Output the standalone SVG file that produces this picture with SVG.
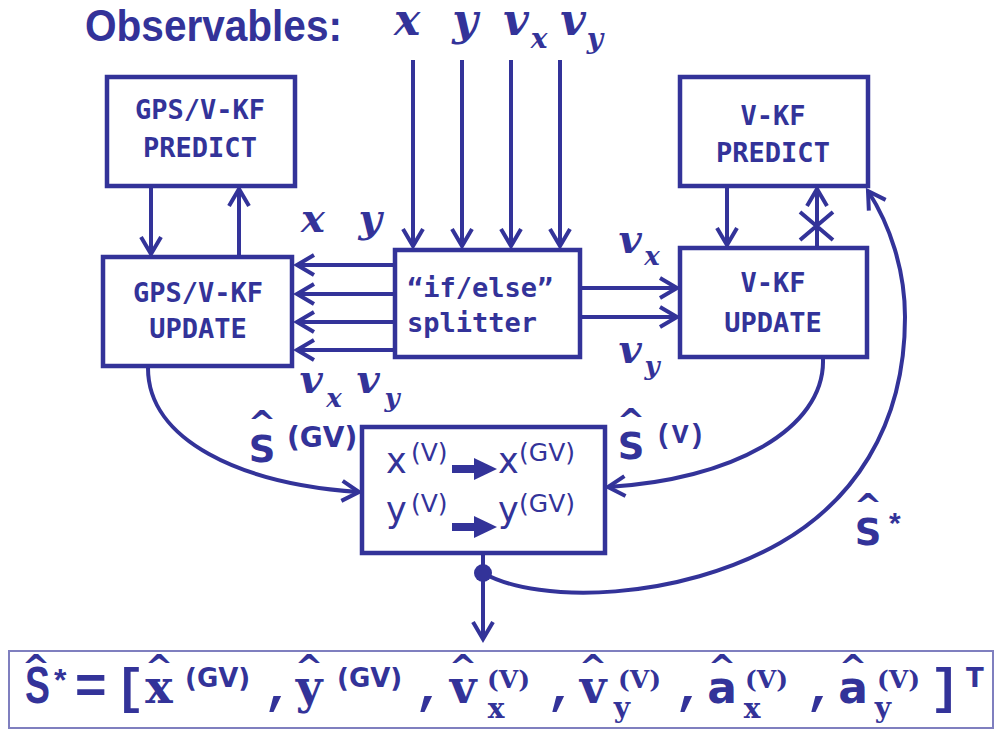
<svg xmlns="http://www.w3.org/2000/svg" width="998" height="732" viewBox="0 0 998 732">
<defs>
<style>
.ln{fill:none;stroke:#333399;stroke-width:4}
.box{fill:#ffffff;stroke:#333399;stroke-width:4.5}
.bt{font-family:"DejaVu Sans Mono",monospace;font-weight:bold;font-size:27px;fill:#333399;text-anchor:middle}
.var{font-family:"DejaVu Serif",serif;font-weight:bold;font-style:italic;fill:#333399;text-anchor:middle}
.sans{font-family:"DejaVu Sans",sans-serif;fill:#333399}
.sb{font-family:"DejaVu Sans",sans-serif;font-weight:bold;fill:#333399}
.ser{font-family:"DejaVu Serif",serif;font-weight:bold;fill:#333399}
.mono{font-family:"Liberation Mono",monospace;font-weight:bold;fill:#333399}
.hat{font-family:"DejaVu Sans",sans-serif;font-weight:bold;fill:#333399;text-anchor:middle}
.ls{font-family:"Liberation Sans",sans-serif;font-weight:bold;fill:#333399}
.mid{text-anchor:middle}
</style>
<marker id="ah" viewBox="0 0 22 24" refX="20" refY="12" markerWidth="22" markerHeight="24" markerUnits="userSpaceOnUse" orient="auto" style="overflow:visible">
<path d="M3,2 L20,12 L3,22" fill="none" stroke="#333399" stroke-width="4"/>
</marker>
</defs>
<rect width="998" height="732" fill="#ffffff"/>

<g id="title">
<text x="85" y="41" class="ls" font-size="44" textLength="257" lengthAdjust="spacingAndGlyphs">Observables:</text>
<text x="407" y="35" class="var" font-size="44">x</text>
<text x="465" y="35" class="var" font-size="44">y</text>
<text x="516" y="35" class="var" font-size="44">v</text>
<text x="539" y="48" class="var" font-size="28">x</text>
<text x="573" y="35" class="var" font-size="44">v</text>
<text x="595" y="48" class="var" font-size="28">y</text>
</g>

<g id="connectors">
<path class="ln" d="M413,60 V246" marker-end="url(#ah)"/>
<path class="ln" d="M462,60 V246" marker-end="url(#ah)"/>
<path class="ln" d="M511,60 V246" marker-end="url(#ah)"/>
<path class="ln" d="M560,60 V246" marker-end="url(#ah)"/>
<path class="ln" d="M395,265 H297" marker-end="url(#ah)"/>
<path class="ln" d="M395,294 H297" marker-end="url(#ah)"/>
<path class="ln" d="M395,322 H297" marker-end="url(#ah)"/>
<path class="ln" d="M395,350 H297" marker-end="url(#ah)"/>
<path class="ln" d="M580,288 H677" marker-end="url(#ah)"/>
<path class="ln" d="M580,317 H677" marker-end="url(#ah)"/>
<path class="ln" d="M151,188 V254" marker-end="url(#ah)"/>
<path class="ln" d="M239,255 V189" marker-end="url(#ah)"/>
<path class="ln" d="M727,188 V245" marker-end="url(#ah)"/>
<path class="ln" d="M817,246 V189" marker-end="url(#ah)"/>
<path class="ln" d="M800,212 L833,240 M833,212 L800,240"/>
<path class="ln" d="M148,368 C148,440 240,484 359,492" marker-end="url(#ah)"/>
<path class="ln" d="M823,359 C825,430 730,480 608,487" marker-end="url(#ah)"/>
<path class="ln" d="M483,573 C540,605 680,600 780,543 C850,503 905,430 905,317 C905,270 890,225 868,191" marker-end="url(#ah)"/>
<path class="ln" d="M483,555 V639" marker-end="url(#ah)"/>
<circle cx="483" cy="573" r="9" fill="#333399"/>
</g>

<g id="gps-predict">
<rect class="box" x="107" y="77" width="188" height="109"/>
<text class="bt" x="200" y="119">GPS/V-KF</text>
<text class="bt" x="200" y="157">PREDICT</text>
</g>
<g id="gps-update">
<rect class="box" x="103" y="257" width="189" height="109"/>
<text class="bt" x="198" y="302">GPS/V-KF</text>
<text class="bt" x="198" y="338">UPDATE</text>
</g>
<g id="splitter">
<rect class="box" x="395" y="250" width="185" height="107"/>
<text class="bt" x="407" y="297" style="text-anchor:start">“if/else”</text>
<text class="bt" x="407" y="332" style="text-anchor:start">splitter</text>
</g>
<g id="vkf-predict">
<rect class="box" x="680" y="77" width="188" height="109"/>
<text class="bt" x="773" y="125">V-KF</text>
<text class="bt" x="773" y="162">PREDICT</text>
</g>
<g id="vkf-update">
<rect class="box" x="680" y="248" width="187" height="109"/>
<text class="bt" x="773" y="292">V-KF</text>
<text class="bt" x="773" y="332">UPDATE</text>
</g>
<g id="merge">
<rect class="box" x="362" y="427" width="243" height="126"/>
<text class="sans" x="386" y="473" font-size="35">x</text>
<text class="sans" x="411" y="461" font-size="25">(V)</text>
<rect x="452" y="465" width="24" height="8" fill="#333399"/>
<polygon points="474,458 497,469 474,480" fill="#333399"/>
<text class="sans" x="498" y="473" font-size="35">x</text>
<text class="sans" x="519" y="461" font-size="25">(GV)</text>
<text class="sans" x="386" y="522" font-size="35">y</text>
<text class="sans" x="411" y="512" font-size="25">(V)</text>
<rect x="452" y="523" width="24" height="8" fill="#333399"/>
<polygon points="474,516 497,527 474,538" fill="#333399"/>
<text class="sans" x="498" y="522" font-size="35">y</text>
<text class="sans" x="519" y="512" font-size="25">(GV)</text>
</g>

<g id="labels">
<text x="313" y="232" class="var" font-size="40">x</text>
<text x="370" y="232" class="var" font-size="40">y</text>
<text x="311" y="393" class="var" font-size="40">v</text>
<text x="334" y="407" class="var" font-size="26">x</text>
<text x="368" y="393" class="var" font-size="40">v</text>
<text x="392" y="407" class="var" font-size="26">y</text>
<text x="630" y="253" class="var" font-size="40">v</text>
<text x="652" y="265" class="var" font-size="26">x</text>
<text x="630" y="363" class="var" font-size="40">v</text>
<text x="652" y="375" class="var" font-size="26">y</text>
<text class="hat" x="262" y="435" font-size="34">^</text>
<text class="sb mid" x="262" y="462" font-size="37">S</text>
<text class="sb" x="287" y="447" font-size="28">(GV)</text>
<text class="hat" x="631" y="433" font-size="34">^</text>
<text class="sb mid" x="631" y="459" font-size="37">S</text>
<text class="mono" x="655" y="443" font-size="28">(V)</text>
<text class="hat" x="868" y="518" font-size="34">^</text>
<text class="sb mid" x="868" y="545" font-size="37">S</text>
<text class="ls" x="889" y="533" font-size="30">*</text>
</g>

<g id="formula">
<rect x="9" y="651" width="984" height="77" fill="none" stroke="#7f7fbf" stroke-width="2"/>
<text class="hat" x="36" y="679" font-size="34">^</text>
<text class="ls" x="0" y="0" font-size="52" transform="translate(25,703) scale(0.72,1)">S</text>
<text class="ls" x="54" y="691" font-size="32">*</text>
<text class="ls" x="75" y="703" font-size="54">=</text>
<text class="mono mid" x="130" y="703" font-size="50">[</text>
<text class="hat" x="159" y="679" font-size="34">^</text>
<text class="ser mid" x="159" y="703" font-size="46">x</text>
<text class="sb" x="185" y="687" font-size="26">(GV)</text>
<text class="mono mid" x="278" y="703" font-size="50">,</text>
<text class="hat" x="309" y="679" font-size="34">^</text>
<text class="ser mid" x="309" y="703" font-size="46">y</text>
<text class="sb" x="337" y="687" font-size="26">(GV)</text>
<text class="mono mid" x="429" y="703" font-size="50">,</text>
<text class="hat" x="463" y="679" font-size="34">^</text>
<text class="ser mid" x="463" y="703" font-size="46">v</text>
<text class="ser" x="487" y="688" font-size="25">(V)</text>
<text class="ser mid" x="496" y="718" font-size="28">x</text>
<text class="mono mid" x="561" y="703" font-size="50">,</text>
<text class="hat" x="593" y="679" font-size="34">^</text>
<text class="ser mid" x="593" y="703" font-size="46">v</text>
<text class="ser" x="618" y="688" font-size="25">(V)</text>
<text class="ser mid" x="622" y="717" font-size="28">y</text>
<text class="mono mid" x="689" y="703" font-size="50">,</text>
<text class="hat" x="722" y="679" font-size="34">^</text>
<text class="sb mid" x="722" y="703" font-size="44">a</text>
<text class="ser" x="745" y="688" font-size="25">(V)</text>
<text class="ser mid" x="752" y="718" font-size="28">x</text>
<text class="mono mid" x="820" y="703" font-size="50">,</text>
<text class="hat" x="853" y="679" font-size="34">^</text>
<text class="sb mid" x="853" y="703" font-size="44">a</text>
<text class="ser" x="877" y="688" font-size="25">(V)</text>
<text class="ser mid" x="883" y="717" font-size="28">y</text>
<text class="mono mid" x="945" y="703" font-size="50">]</text>
<text class="sb" x="966" y="687" font-size="26">T</text>
</g>
</svg>
